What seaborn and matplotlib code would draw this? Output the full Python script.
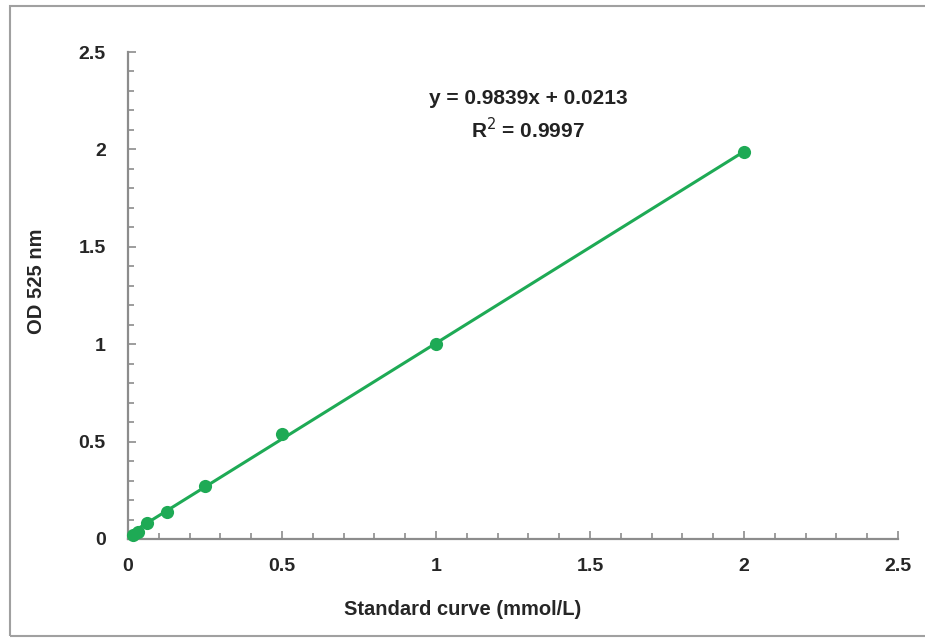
import numpy as np
import matplotlib
matplotlib.use("Agg")
import matplotlib.pyplot as plt
from matplotlib.ticker import MultipleLocator
from matplotlib.patches import Rectangle
import seaborn as sns

sns.set_style("white")
plt.rcParams["font.family"] = ["Liberation Sans", "DejaVu Sans"]

# standard curve points
conc = [0.015625, 0.03125, 0.0625, 0.125, 0.25, 0.5, 1.0, 2.0]
od = [0.022, 0.036, 0.082, 0.139, 0.272, 0.539, 1.001, 1.987]

# linear fit as reported on the chart
slope = 0.9839
intercept = 0.0213
fit_x = [0.0, 2.0]
fit_y = [slope * v + intercept for v in fit_x]

tick_vals = [0, 0.5, 1, 1.5, 2, 2.5]
tick_labels = ["0", "0.5", "1", "1.5", "2", "2.5"]

green = "#1eaa55"
axis_grey = "#8c8c8c"

fig = plt.figure(figsize=(9.25, 6.39), dpi=100)
ax = fig.add_axes([0.1384, 0.1565, 0.8324, 0.7621])

sns.lineplot(x=fit_x, y=fit_y, ax=ax, color=green, linewidth=2.2)
sns.scatterplot(x=conc, y=od, ax=ax, color=green, s=90, edgecolor=green,
                linewidth=0, zorder=3, clip_on=False)

ax.set_xlim(0, 2.5)
ax.set_ylim(0, 2.5)
ax.set_xticks(tick_vals, tick_labels)
ax.set_yticks(tick_vals, tick_labels)
ax.xaxis.set_minor_locator(MultipleLocator(0.1))
ax.yaxis.set_minor_locator(MultipleLocator(0.1))
ax.tick_params(which="both", direction="in", color=axis_grey, width=1.2,
               labelsize=14, bottom=True, left=True)
ax.tick_params(which="major", length=6)
ax.tick_params(which="minor", length=4)
ax.tick_params(axis="x", pad=14)
ax.tick_params(axis="y", pad=16)
for lab in ax.get_xticklabels() + ax.get_yticklabels():
    lab.set_fontweight("bold")

for side in ["top", "right"]:
    ax.spines[side].set_visible(False)
for side in ["left", "bottom"]:
    ax.spines[side].set_color(axis_grey)
    ax.spines[side].set_linewidth(1.6)

ax.set_xlabel("Standard curve (mmol/L)", fontsize=14.5, fontweight="bold")
ax.set_ylabel("OD 525 nm", fontsize=14.5, fontweight="bold")
ax.xaxis.set_label_coords(0.434, -0.125)
ax.yaxis.set_label_coords(-0.106, 0.53)

ax.text(1.30, 2.26, "y = 0.9839x + 0.0213", ha="center", va="center",
        fontsize=15, fontweight="bold", color="#222222")
ax.text(1.30, 2.10, "R$^2$ = 0.9997", ha="center", va="center",
        fontsize=15, fontweight="bold", color="#222222")

# outer chart frame
fig.patches.append(Rectangle((10 / 925, 3 / 639), 920 / 925, 630 / 639,
                             transform=fig.transFigure, fill=False,
                             edgecolor="#a0a0a0", linewidth=1.5))

fig.savefig("out.png", dpi=100)
